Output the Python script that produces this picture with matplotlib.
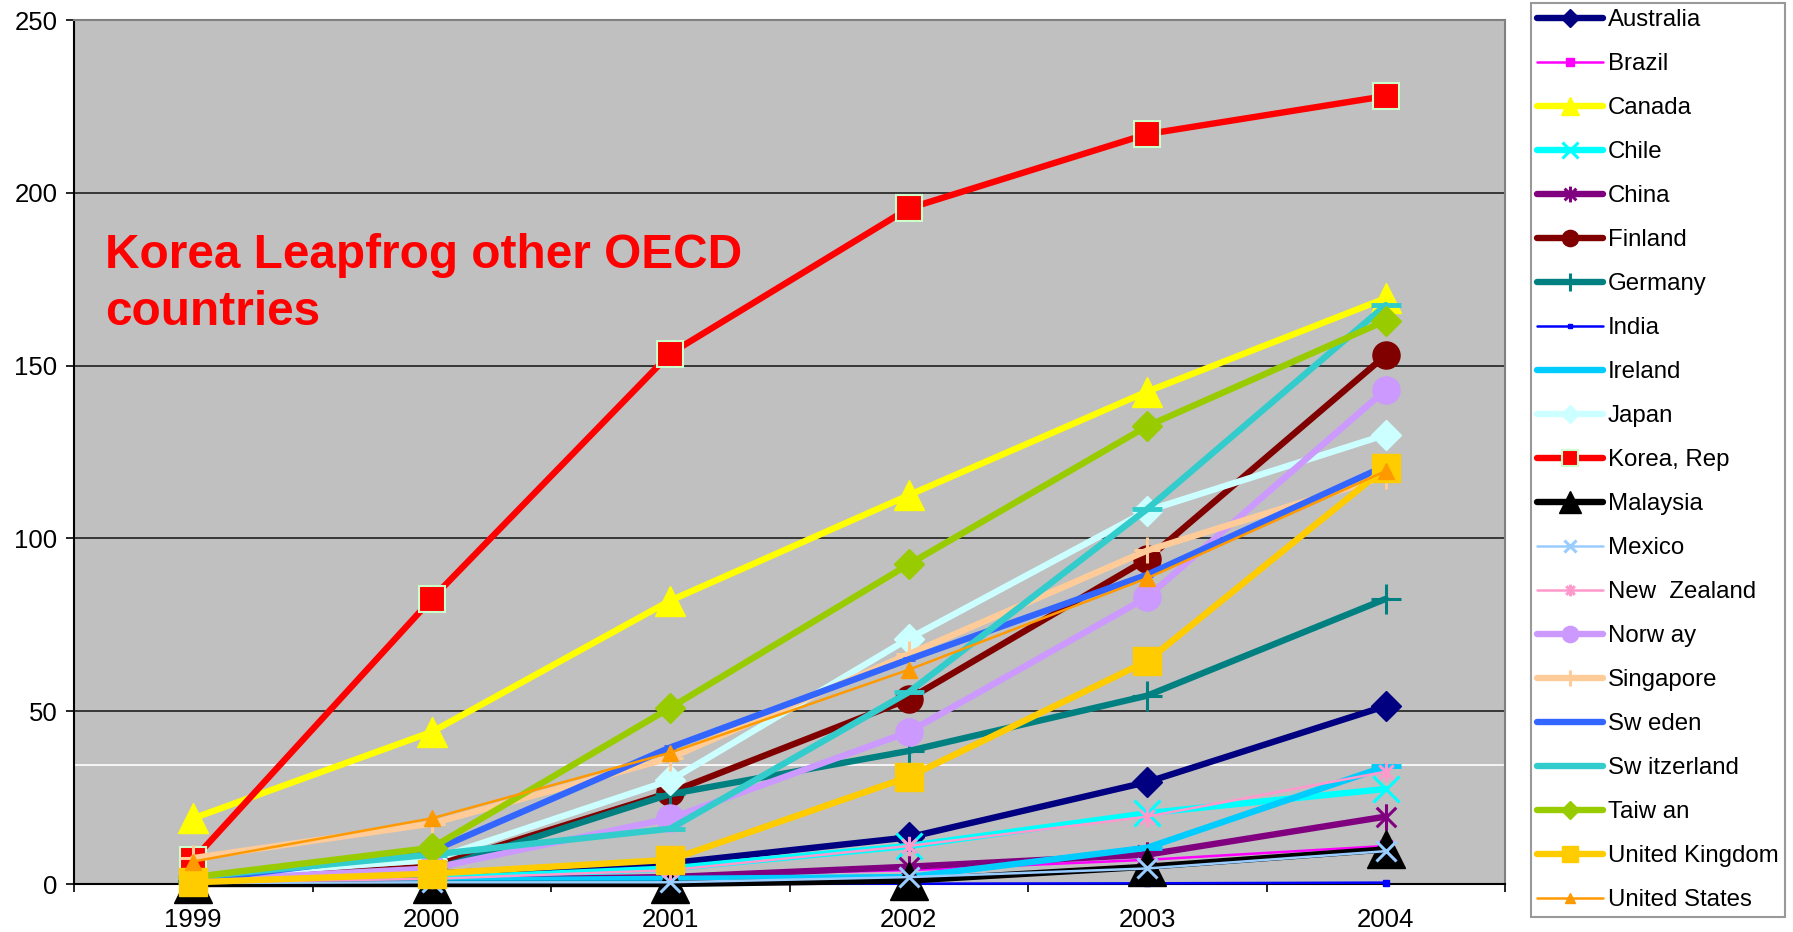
import matplotlib
matplotlib.use("Agg")
import matplotlib.pyplot as plt
from matplotlib.path import Path

plt.rcParams['font.family'] = ['Liberation Sans', 'DejaVu Sans']

# data
years = ['1999', '2000', '2001', '2002', '2003', '2004']

countries = ['Australia', 'Brazil', 'Canada', 'Chile', 'China', 'Finland',
             'Germany', 'India', 'Ireland', 'Japan', 'Korea, Rep', 'Malaysia',
             'Mexico', 'New  Zealand', 'Norw ay', 'Singapore', 'Sw eden',
             'Sw itzerland', 'Taiw an', 'United Kingdom', 'United States']

australia = [1, 3, 6, 13.5, 29.5, 51.5]
brazil = [0.5, 1, 2.5, 4, 7, 11]
canada = [19, 44, 82, 112.5, 142.5, 169.5]
chile = [0.5, 1.5, 4.5, 11, 20.5, 27.5]
china = [0.5, 1, 2, 5, 8.5, 19.5]
finland = [1, 5, 26.5, 53.5, 94, 153]
germany = [1, 4, 26, 38.5, 54.5, 82.5]
india = [0, 0, 0, 0.1, 0.2, 0.4]
ireland = [0.5, 1, 1.5, 2, 10.5, 34]
japan = [2, 7, 30, 71, 108, 130]
korea = [7, 82.5, 153.5, 195.5, 217, 228]
malaysia = [0, 0, 0, 1, 5, 10]
mexico = [0.3, 0.5, 0.5, 2, 4.5, 9.5]
new_zealand = [0.5, 1.5, 4, 11, 19.5, 32.5]
norway = [1, 4.5, 19, 44, 83, 143]
singapore = [7.5, 17.5, 36.5, 66.5, 96.5, 118]
sweden = [1, 9.5, 39.5, 65, 89.5, 121]
switzerland = [2, 8.5, 16, 55.5, 108.5, 167.5]
taiwan = [2, 10.5, 51, 92.5, 132.5, 163]
uk = [0.5, 3, 7, 31, 64.5, 120.5]
us = [6.5, 19, 38, 62, 88.5, 119.5]

series = [australia, brazil, canada, chile, china, finland, germany, india,
          ireland, japan, korea, malaysia, mexico, new_zealand, norway,
          singapore, sweden, switzerland, taiwan, uk, us]

white_line = 34.5

# excel style asterisk marker (x with a vertical bar)
star = Path([(-1, -1), (1, 1), (-1, 1), (1, -1), (0, -1.35), (0, 1.35)],
            [Path.MOVETO, Path.LINETO, Path.MOVETO, Path.LINETO,
             Path.MOVETO, Path.LINETO])

THICK = 4.6
THIN = 1.8

# colour, marker, markersize, linewidth
styles = [
    ('#000080', 'D', 15, THICK),
    ('#FF00FF', 's', 9, THIN),
    ('#FFFF00', '^', 21, THICK),
    ('#00FFFF', 'x', 19, THICK),
    ('#800080', star, 19, THICK),
    ('#800000', 'o', 19.5, THICK),
    ('#008080', '+', 21, THICK),
    ('#0000FF', 's', 5, THIN),
    ('#00CCFF', '_', 21, THICK),
    ('#CCFFFF', 'D', 15, THICK),
    ('#FF0000', 's', 19, THICK),
    ('#000000', '^', 27, THICK),
    ('#99CCFF', 'x', 14, THIN),
    ('#FF99CC', star, 14, THIN),
    ('#CC99FF', 'o', 19.5, THICK),
    ('#FFCC99', '+', 19, THICK),
    ('#3366FF', '_', 8, THICK),
    ('#33CCCC', '_', 21, THICK),
    ('#99CC00', 'D', 15, THICK),
    ('#FFCC00', 's', 20, THICK),
    ('#FF9900', '^', 11, THIN),
]

fig = plt.figure(figsize=(17.93, 9.32), dpi=100)
ax = fig.add_axes([74 / 1793, 1 - 884 / 932, (1505 - 74) / 1793, (884 - 20) / 932])
ax.set_facecolor('#C0C0C0')

x = list(range(len(years)))
handles = []
for i, (name, vals) in enumerate(zip(countries, series)):
    col, mk, ms, lw = styles[i]
    kw = dict(color=col, lw=lw, marker=mk, ms=ms, mfc=col, mec=col,
              solid_capstyle='round', solid_joinstyle='round',
              zorder=3 + i, clip_on=False)
    if mk in ('x', '+', '_') or mk is star:
        kw['mew'] = 2.2 if mk != '_' else 3.5
        if mk is star:
            kw['mfc'] = 'none'
    if name == 'Korea, Rep':
        kw['mec'] = '#CCFFCC'
        kw['mew'] = 1.5
    line, = ax.plot(x, vals, label=name, **kw)
    handles.append(line)

ax.set_xlim(-0.5, 5.5)
ax.set_ylim(0, 250)
ax.set_yticks([0, 50, 100, 150, 200, 250])
ax.set_xticks(x)
ax.set_xticklabels(years)
ax.set_xticks([i - 0.5 for i in range(len(years) + 1)], minor=True)
ax.tick_params(axis='x', which='major', length=0, pad=17, labelsize=18.5)
ax.tick_params(axis='x', which='minor', length=6, width=1.2, color='black')
ax.tick_params(axis='y', length=6, width=1.2, pad=6, labelsize=18.5)

for yv in [50, 100, 150, 200]:
    ax.axhline(yv, color='#202020', lw=1.2, zorder=1)
ax.axhline(white_line, color='white', lw=1.2, zorder=1)

ax.spines['left'].set_color('black')
ax.spines['bottom'].set_color('black')
ax.spines['left'].set_linewidth(1.5)
ax.spines['bottom'].set_linewidth(1.5)
ax.spines['top'].set_color('#808080')
ax.spines['right'].set_color('#808080')
ax.spines['top'].set_linewidth(1.5)
ax.spines['right'].set_linewidth(1.5)

fig.text(105 / 1793, 1 - 325 / 932, 'Korea Leapfrog other OECD\ncountries',
         color='#FF0000', fontsize=34.4, fontweight='bold',
         ha='left', va='baseline', linespacing=1.33, multialignment='left')

leg = fig.legend(handles, countries, loc='lower left',
                 bbox_to_anchor=(1531 / 1793, 1 - 917 / 932),
                 fontsize=17.3, frameon=True, fancybox=False,
                 edgecolor='#808080', labelspacing=0.915, borderaxespad=0,
                 borderpad=0.25, handlelength=2.75, handletextpad=0.2,
                 markerscale=0.6)
leg.get_frame().set_linewidth(1.5)

fig.savefig('out.png', dpi=100, facecolor='white')
